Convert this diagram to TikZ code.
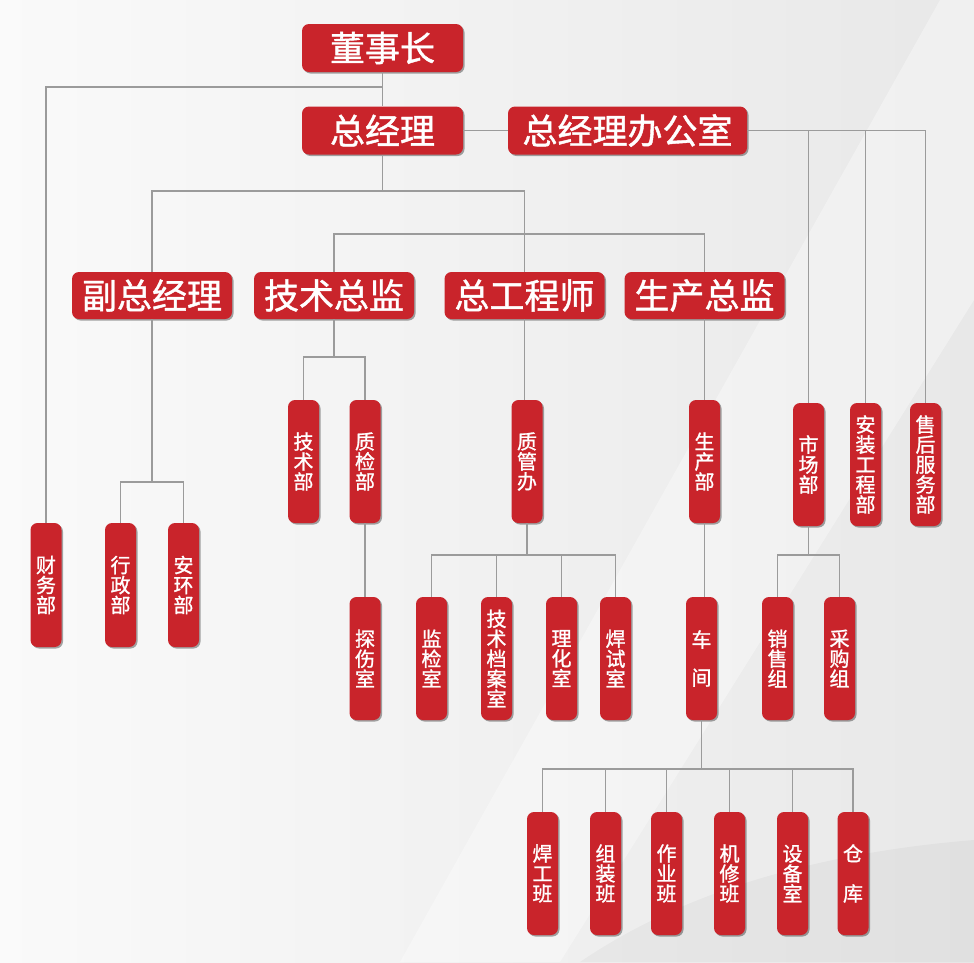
\documentclass[tikz,border=0pt]{standalone}
\usepackage{fontspec}
\newfontfamily\cjk[FakeBold=1.2]{Noto Sans CJK SC}
\usetikzlibrary{shadows,calc}
\definecolor{boxred}{RGB}{201,36,43}
\definecolor{linegray}{RGB}{155,155,155}
\begin{document}
\begin{tikzpicture}[x=1pt,y=-1pt,
  box/.style={fill=boxred, rounded corners=7pt, text=white, inner sep=0pt,
    drop shadow={shadow xshift=1.5pt,shadow yshift=-1.5pt,opacity=0.35,fill=black}},
  hbox/.style={box, minimum height=48pt, font=\cjk\fontsize{35}{35}\selectfont},
  vbox/.style={box, minimum width=31pt, minimum height=123pt, align=center, font=\cjk\fontsize{20}{20}\selectfont},
  conn/.style={draw=linegray, line width=1.2pt}]
\useasboundingbox (0,0) rectangle (974,962);
\shade[left color=white!98!black, right color=white!91!black] (0,0) rectangle (974,962);
\fill[white, opacity=0.35] (940,0) -- (974,0) -- (974,300) -- (560,962) -- (400,962) -- cycle;
\fill[black, opacity=0.03] (580,962) .. controls (700,880) and (850,850) .. (974,840) -- (974,962) -- cycle;

% top
\node[hbox, minimum width=161pt] (dsz) at (382.5,48) {董事长};
\node[hbox, minimum width=161pt] (zjl) at (382.5,130.5) {总经理};
\node[hbox, minimum width=239pt] (zjlb) at (627.5,130.5) {总经理办公室};
% row 2
\node[hbox, minimum width=160pt, minimum height=47pt] (fzjl) at (152,295.5) {副总经理};
\node[hbox, minimum width=160pt, minimum height=47pt] (jszj) at (334,295.5) {技术总监};
\node[hbox, minimum width=160pt, minimum height=47pt] (zgcs) at (524.5,295.5) {总工程师};
\node[hbox, minimum width=160pt, minimum height=47pt] (sczj) at (704.5,295.5) {生产总监};
% row 3
\node[vbox] (jsb) at (303.5,461.5) {技\\术\\部};
\node[vbox] (zjb) at (365,461.5) {质\\检\\部};
\node[vbox] (zgb) at (527,461.5) {质\\管\\办};
\node[vbox] (scb) at (704.5,461.5) {生\\产\\部};
\node[vbox] (scbu) at (808.5,464.5) {市\\场\\部};
\node[vbox] (azgc) at (865.5,464.5) {安\\装\\工\\程\\部};
\node[vbox] (shfw) at (925.5,464.5) {售\\后\\服\\务\\部};
% row 4 left
\node[vbox, minimum height=124pt] (cwb) at (46,585) {财\\务\\部};
\node[vbox, minimum height=124pt] (xzb) at (120.5,585) {行\\政\\部};
\node[vbox, minimum height=124pt] (ahb) at (183.5,585) {安\\环\\部};
% row 5
\node[vbox] (tss) at (365,658.5) {探\\伤\\室};
\node[vbox] (jjs) at (431.5,658.5) {监\\检\\室};
\node[vbox] (jsda) at (496.5,658.5) {技\\术\\档\\案\\室};
\node[vbox] (lhs) at (561.5,658.5) {理\\化\\室};
\node[vbox] (hss) at (615.5,658.5) {焊\\试\\室};
\node[vbox, font=\cjk\fontsize{20}{38}\selectfont] (cj) at (701.5,658.5) {车\\间};
\node[vbox] (xsz) at (777.5,658.5) {销\\售\\组};
\node[vbox] (cgz) at (839.5,658.5) {采\\购\\组};
% row 6
\node[vbox] (hgb) at (542.5,873.5) {焊\\工\\班};
\node[vbox] (zzb) at (605.5,873.5) {组\\装\\班};
\node[vbox] (zyb) at (666.5,873.5) {作\\业\\班};
\node[vbox] (jxb) at (729.5,873.5) {机\\修\\班};
\node[vbox] (sbs) at (792.5,873.5) {设\\备\\室};
\node[vbox, font=\cjk\fontsize{20}{40}\selectfont] (ck) at (853,873.5) {仓\\库};

% bus coordinates
\coordinate (y87) at (0,87);
\coordinate (y191) at (0,191);
\coordinate (y234) at (0,234);
\coordinate (y357) at (0,357);
\coordinate (y482) at (0,482);
\coordinate (y555) at (0,555);
\coordinate (y769) at (0,769);

% connectors
\draw[conn] (dsz.south) -- (zjl.north);
\draw[conn] (dsz.south |- y87) -| (cwb.north);
\draw[conn] (zjl.east) -- (zjlb.west);
\draw[conn] (zjlb.east) -| (shfw.north);
\draw[conn] (zjlb.east -| scbu.north) -- (scbu.north);
\draw[conn] (zjlb.east -| azgc.north) -- (azgc.north);
\draw[conn] (zjl.south) -- (zjl.south |- y191);
\draw[conn] (fzjl.north) |- (zgcs.north |- y191) -- (zgcs.north);
\draw[conn] (jszj.north) |- (sczj.north |- y234) -- (sczj.north);
\draw[conn] (jszj.south) -- (jszj.south |- y357);
\draw[conn] (jsb.north) |- (zjb.north |- y357) -- (zjb.north);
\draw[conn] (zjb.south) -- (tss.north);
\draw[conn] (zgcs.south) -- (zgcs.south |- zgb.north);
\draw[conn] (sczj.south) -- (scb.north);
\draw[conn] (fzjl.south) -- (fzjl.south |- y482);
\draw[conn] (xzb.north) |- (ahb.north |- y482) -- (ahb.north);
\draw[conn] (zgb.south) -- (zgb.south |- y555);
\draw[conn] (jjs.north) |- (hss.north |- y555) -- (hss.north);
\draw[conn] (jsda.north) -- (jsda.north |- y555);
\draw[conn] (lhs.north) -- (lhs.north |- y555);
\draw[conn] (scb.south) -- (scb.south |- cj.north);
\draw[conn] (scbu.south) -- (scbu.south |- y555);
\draw[conn] (xsz.north) |- (cgz.north |- y555) -- (cgz.north);
\draw[conn] (cj.south) -- (cj.south |- y769);
\draw[conn] (hgb.north) |- (ck.north |- y769) -- (ck.north);
\draw[conn] (zzb.north) -- (zzb.north |- y769);
\draw[conn] (zyb.north) -- (zyb.north |- y769);
\draw[conn] (jxb.north) -- (jxb.north |- y769);
\draw[conn] (sbs.north) -- (sbs.north |- y769);
\end{tikzpicture}
\end{document}
